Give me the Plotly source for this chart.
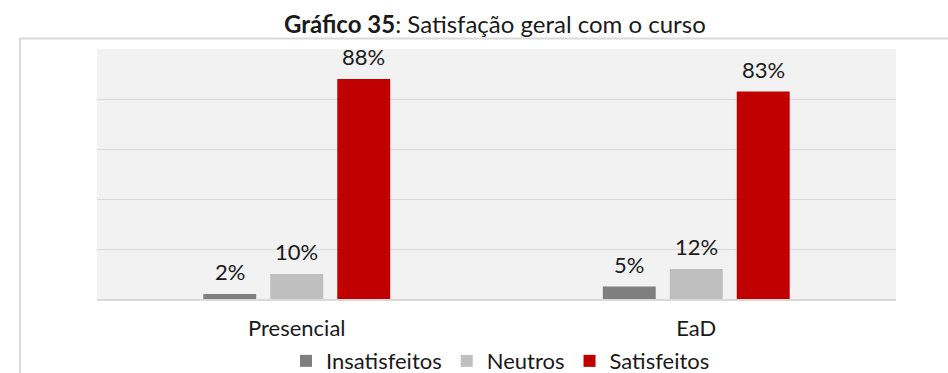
import plotly.graph_objects as go

categories = ["Presencial", "EaD"]
series_names = ["Insatisfeitos", "Neutros", "Satisfeitos"]
insatisfeitos = [2, 5]
neutros = [10, 12]
satisfeitos = [88, 83]
colors = ["#7f7f7f", "#bfbfbf", "#c00000"]

FONT = "Lato"
TEXT_COLOR = "#1a1a1a"
values = [insatisfeitos, neutros, satisfeitos]

fig = go.Figure()
for i, (name, vals, col) in enumerate(zip(series_names, values, colors)):
    fig.add_trace(go.Bar(
        name=name, x=categories, y=vals, marker_color=col,
        marker_line_width=0, offsetgroup=str(i),
    ))

# value labels above each bar
n = len(series_names)
slot = 1.0 - 0.497  # share of the category occupied by one group
for i, vals in enumerate(values):
    offset = (i - (n - 1) / 2) * slot / n
    for j, v in enumerate(vals):
        fig.add_annotation(
            x=j + offset, y=v, xref="x", yref="y",
            text=f"{v}%", showarrow=False, yanchor="bottom", yshift=7,
            font=dict(family=FONT, size=22, color=TEXT_COLOR),
        )

# outer frame around the chart
fig.add_shape(type="rect", xref="paper", yref="paper",
              x0=-0.0964, x1=1.2, y0=-0.5, y1=1.042,
              line=dict(color="#d9d9d9", width=2), layer="below")

fig.update_layout(
    width=948, height=373,
    margin=dict(l=97, r=52, t=49, b=74, autoexpand=False),
    paper_bgcolor="white", plot_bgcolor="#f2f2f2",
    barmode="group", bargap=0.497, bargroupgap=0.21,
    title=dict(
        text="<b>Gráfico 35</b>: Satisfação geral com o curso",
        x=0.522, xanchor="center", y=0.933, yanchor="middle",
        font=dict(family=FONT, size=24, color=TEXT_COLOR),
    ),
    font=dict(family=FONT, size=22, color=TEXT_COLOR),
    legend=dict(orientation="h", x=0.505, xanchor="center",
                yref="container", y=0.032, yanchor="middle",
                bgcolor="rgba(0,0,0,0)",
                font=dict(family=FONT, size=22, color=TEXT_COLOR),
                itemwidth=30, traceorder="normal"),
    showlegend=True,
)
fig.update_xaxes(showline=True, linecolor="#d9d9d9", linewidth=2,
                 tickfont=dict(family=FONT, size=22, color=TEXT_COLOR), ticks="",
                 ticklabelstandoff=9)
fig.update_yaxes(range=[0, 100], dtick=20, showticklabels=False,
                 gridcolor="#d9d9d9", gridwidth=1, zeroline=False)

fig.write_html("out.html")
